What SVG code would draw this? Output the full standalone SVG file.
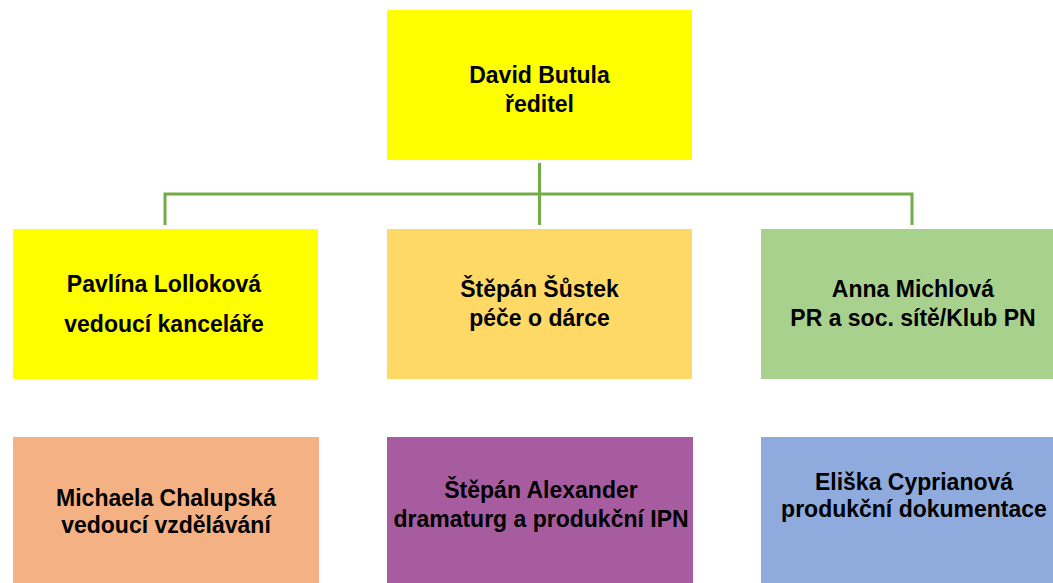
<svg xmlns="http://www.w3.org/2000/svg" width="1053" height="583" viewBox="0 0 1053 583">
<style>
text{font-family:"Liberation Sans",Arial,sans-serif;font-weight:bold;font-size:23px;fill:#000;text-anchor:middle}
.c{stroke:#70AD47;stroke-width:3;fill:none}
</style>
<rect width="1053" height="583" fill="#fff"/>
<g id="connectors">
<path class="c" d="M539.5 163V225M165 194H912M165 192.5V225M912 192.5V225"/>
</g>
<g id="director"><rect x="387" y="10" width="305" height="150" fill="#FFFF00"/><text x="539.5" y="83">David Butula</text><text x="539.5" y="112">ředitel</text></g>
<g id="lollokova"><rect x="13" y="229" width="305" height="150" fill="#FFFF00"/><text x="164" y="292">Pavlína Lolloková</text><text x="164" y="332">vedoucí kanceláře</text></g>
<g id="sustek"><rect x="387" y="229" width="305" height="150" fill="#FFD966"/><text x="539.5" y="297">Štěpán Šůstek</text><text x="539.5" y="326">péče o dárce</text></g>
<g id="michlova"><rect x="761" y="229" width="292" height="150" fill="#A9D18E"/><text x="913" y="297">Anna Michlová</text><text x="913" y="326">PR a soc. sítě/Klub PN</text></g>
<g id="chalupska"><rect x="13" y="437" width="306" height="146" fill="#F4B183"/><text x="166" y="506">Michaela Chalupská</text><text x="166" y="533">vedoucí vzdělávání</text></g>
<g id="alexander"><rect x="387" y="437" width="306" height="146" fill="#A85CA0"/><text x="541" y="498">Štěpán Alexander</text><text x="541" y="527">dramaturg a produkční IPN</text></g>
<g id="cyprianova"><rect x="761" y="437" width="292" height="146" fill="#8FAADC"/><text x="914" y="490">Eliška Cyprianová</text><text x="914" y="517">produkční dokumentace</text></g>
</svg>
